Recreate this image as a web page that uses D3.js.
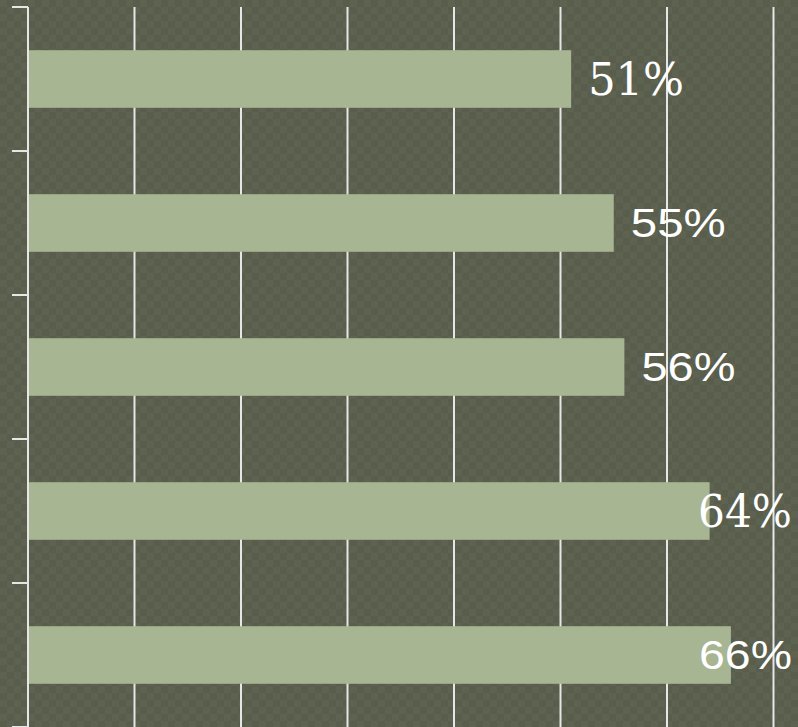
<!DOCTYPE html>
<html>
<head>
<meta charset="utf-8">
<script src="https://cdn.jsdelivr.net/npm/d3@7"></script>
<style>
  html, body { margin: 0; padding: 0; background: #5b5f4d; }
  svg { display: block; }
</style>
</head>
<body>
<script>
// ---- data ----
const categories = ["A", "B", "C", "D", "E"];
const values = [51, 55, 56, 64, 66];
const labels = ["51%", "55%", "56%", "64%", "66%"];
const xTickValues = [10, 20, 30, 40, 50, 60, 70];

// ---- styles ----
const labelFonts = ["'DejaVu Serif', serif", "'Liberation Sans', Arial, sans-serif", "'Liberation Sans', Arial, sans-serif", "'DejaVu Serif', serif", "'Liberation Sans', Arial, sans-serif"];
const labelSizes = [44, 40, 40, 44, 40];
const labelWidths = [96, 95, 94, 94, 93];

const W = 798, H = 727;
const svg = d3.select("body").append("svg").attr("width", W).attr("height", H);

// textured background
const defs = svg.append("defs");
const pat = defs.append("pattern").attr("id", "tex").attr("patternUnits", "userSpaceOnUse")
  .attr("width", 14).attr("height", 14);
pat.append("rect").attr("width", 14).attr("height", 14).attr("fill", "#5b5f4d");
pat.append("rect").attr("width", 7).attr("height", 7).attr("fill", "#5e6250");
pat.append("rect").attr("x", 7).attr("y", 7).attr("width", 7).attr("height", 7).attr("fill", "#5e6250");
pat.append("rect").attr("x", 7).attr("y", 0).attr("width", 7).attr("height", 7).attr("fill", "#595d4b");
pat.append("rect").attr("x", 0).attr("y", 7).attr("width", 7).attr("height", 7).attr("fill", "#595d4b");
svg.append("rect").attr("width", W).attr("height", H).attr("fill", "url(#tex)");

const x = d3.scaleLinear().domain([0, 70]).range([28, 773.5]);
const y = d3.scaleBand().domain(categories).range([7, 727]).paddingInner(0.6).paddingOuter(0.3);

const lineColor = "#e6e6e6";

// vertical grid lines
svg.append("g").selectAll("line").data(xTickValues).join("line")
  .attr("x1", d => x(d)).attr("x2", d => x(d))
  .attr("y1", 7).attr("y2", H)
  .attr("stroke", lineColor).attr("stroke-width", 2);

// bars
svg.append("g").selectAll("rect").data(values).join("rect")
  .attr("x", x(0))
  .attr("y", (d, i) => y(categories[i]))
  .attr("width", d => x(d) - x(0))
  .attr("height", y.bandwidth())
  .attr("fill", "#a8b592");

// y axis line and boundary ticks
const step = y.step();
const edges = categories.map(c => y(c) - (step - y.bandwidth()) / 2);
edges.push(edges[edges.length - 1] + step);
const ax = svg.append("g");
ax.append("line").attr("x1", x(0)).attr("x2", x(0)).attr("y1", edges[0]).attr("y2", H)
  .attr("stroke", lineColor).attr("stroke-width", 2);
ax.selectAll("line.tick").data(edges).join("line").attr("class", "tick")
  .attr("x1", x(0) - 16).attr("x2", x(0))
  .attr("y1", d => d).attr("y2", d => d)
  .attr("stroke", lineColor).attr("stroke-width", 2);

// labels
const right = 792;
svg.append("g").selectAll("text").data(values).join("text")
  .attr("x", (d, i) => Math.min(x(d) + 17, right - labelWidths[i]))
  .attr("y", (d, i) => y(categories[i]) + y.bandwidth() / 2)
  .attr("dominant-baseline", "central")
  .attr("textLength", (d, i) => labelWidths[i])
  .attr("lengthAdjust", "spacingAndGlyphs")
  .attr("fill", "#ffffff")
  .style("font-family", (d, i) => labelFonts[i])
  .style("font-size", (d, i) => labelSizes[i] + "px")
  .text((d, i) => labels[i]);
</script>
</body>
</html>
